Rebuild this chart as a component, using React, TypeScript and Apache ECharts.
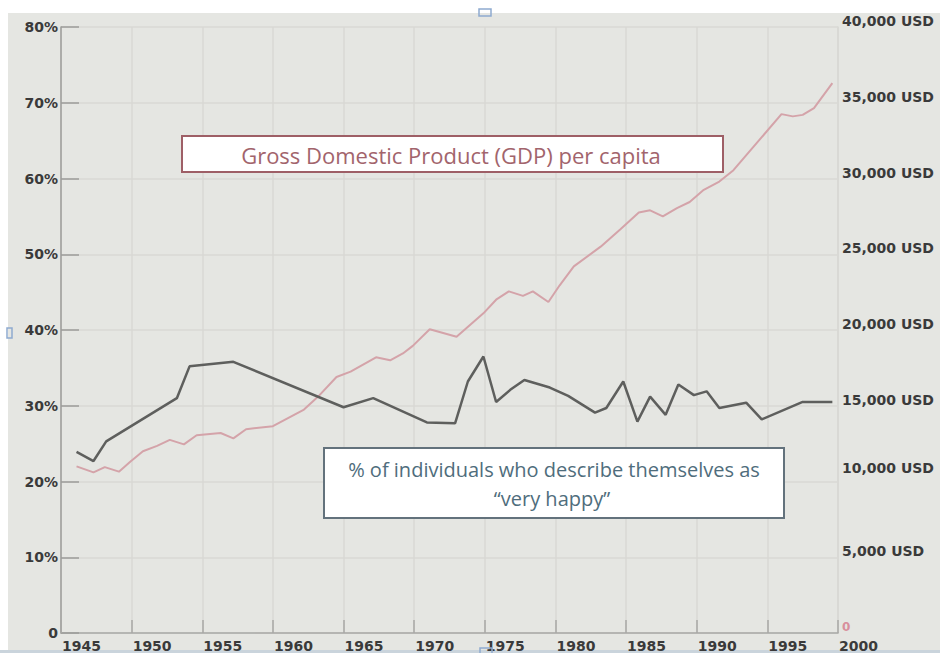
import React, { useEffect, useRef } from "react";
import * as echarts from "echarts";

const happyYears = [1946.1, 1947.3, 1948.2, 1953.2, 1954.1, 1957.2, 1965.0, 1967.1, 1970.9, 1972.9, 1973.8, 1974.9, 1975.8, 1976.8, 1977.8, 1979.6, 1980.9, 1982.8, 1983.6, 1984.8, 1985.8, 1986.7, 1987.8, 1988.7, 1989.8, 1990.7, 1991.6, 1993.5, 1994.6, 1997.5, 1999.6];
const happyValues = [23.9, 22.7, 25.3, 31.0, 35.2, 35.8, 29.8, 31.0, 27.8, 27.7, 33.2, 36.5, 30.5, 32.1, 33.4, 32.4, 31.3, 29.1, 29.7, 33.2, 27.9, 31.2, 28.8, 32.8, 31.4, 31.9, 29.7, 30.4, 28.2, 30.5, 30.5];

const gdpYears = [1946.1, 1947.3, 1948.1, 1949.1, 1949.9, 1950.8, 1951.8, 1952.7, 1953.7, 1954.6, 1956.3, 1957.2, 1958.1, 1960.0, 1961.0, 1962.2, 1963.3, 1964.5, 1965.5, 1967.3, 1968.3, 1969.2, 1969.9, 1971.1, 1973.0, 1974.9, 1975.8, 1976.7, 1977.7, 1978.4, 1979.5, 1980.3, 1981.3, 1983.2, 1984.6, 1985.9, 1986.7, 1987.6, 1988.6, 1989.5, 1990.5, 1991.6, 1992.6, 1996.0, 1996.8, 1997.5, 1998.3, 1999.6];
const gdpValues = [11000, 10600, 10950, 10650, 11300, 12000, 12350, 12750, 12450, 13050, 13200, 12850, 13450, 13650, 14150, 14750, 15700, 16900, 17250, 18200, 18000, 18450, 18950, 20050, 19550, 21100, 22000, 22550, 22250, 22550, 21850, 22950, 24200, 25500, 26650, 27750, 27900, 27500, 28050, 28450, 29250, 29800, 30550, 34250, 34100, 34200, 34650, 36300];

const xMin = 1945;
const xMax = 2000;
const xStep = 5;
const pctMax = 80;
const pctStep = 10;
const usdMax = 40000;
const usdStep = 5000;

const gdpLabel = "Gross Domestic Product (GDP) per capita";
const happyLabel1 = "% of individuals who describe themselves as";
const happyLabel2 = "\u201Cvery happy\u201D";

const LABEL_FONT = "DejaVu Sans";
const BOX_FONT = "Open Sans";

export default function App() {
  const ref = useRef<HTMLDivElement>(null);

  useEffect(() => {
    if (!ref.current) return;
    const chart = echarts.init(ref.current, null, { renderer: "svg" });
    const happyData = happyYears.map((y, i) => [y, happyValues[i]]);
    const gdpData = gdpYears.map((y, i) => [y, gdpValues[i]]);

    chart.setOption({
      animation: false,
      backgroundColor: "transparent",
      grid: { left: 61, right: 102, top: 27, bottom: 20 },
      xAxis: {
        type: "value",
        min: xMin,
        max: xMax,
        interval: xStep,
        axisLine: { show: true, lineStyle: { color: "#a8a9a6", width: 1.5 } },
        axisTick: { show: true, inside: true, length: 13, lineStyle: { color: "#a8a9a6", width: 1.5 } },
        splitLine: { show: true, lineStyle: { color: "#d8d9d5", width: 1.5 } },
        axisLabel: {
          align: "left",
          margin: 6,
          padding: [0, 0, 0, 1],
          color: "#3a3a3a",
          fontFamily: LABEL_FONT,
          fontWeight: "bold",
          fontSize: 14,
          formatter: (v: number) => String(v),
        },
      },
      yAxis: [
        {
          type: "value",
          min: 0,
          max: pctMax,
          interval: pctStep,
          axisLine: { show: true, lineStyle: { color: "#9c9d9a", width: 1.5 } },
          axisTick: { show: true, inside: true, length: 18, lineStyle: { color: "#9c9d9a", width: 1.5 } },
          splitLine: { show: true, lineStyle: { color: "#d8d9d5", width: 1.5 } },
          axisLabel: {
            margin: 3,
            color: "#3a3a3a",
            fontFamily: LABEL_FONT,
            fontWeight: "bold",
            fontSize: 14,
            formatter: (v: number) => (v === 0 ? "0" : v + "%"),
          },
        },
        {
          type: "value",
          position: "right",
          min: 0,
          max: usdMax,
          interval: usdStep,
          axisLine: { show: true, lineStyle: { color: "#d8d9d5", width: 1.5 } },
          axisTick: { show: false },
          splitLine: { show: false },
          axisLabel: {
            margin: 4,
            align: "left",
            formatter: (v: number) => {
              if (v === 0) return "{z|0}\n{s|}";
              const t = v.toLocaleString("en-US") + " USD";
              if (v === 10000) return "{n|" + t + "}\n{b|}";
              return "{n|" + t + "}\n{s|}";
            },
            rich: {
              n: { color: "#3a3a3a", fontFamily: LABEL_FONT, fontWeight: "bold", fontSize: 14, lineHeight: 16 },
              z: { color: "#d88f9c", fontFamily: LABEL_FONT, fontWeight: "bold", fontSize: 12, lineHeight: 16 },
              s: { lineHeight: 12, fontSize: 1 },
              b: { lineHeight: 28, fontSize: 1 },
            },
          },
        },
      ],
      series: [
        {
          name: "GDP per capita",
          type: "line",
          yAxisIndex: 1,
          data: gdpData,
          symbol: "none",
          lineStyle: { color: "#d4a3a9", width: 2 },
          z: 3,
        },
        {
          name: "Very happy",
          type: "line",
          yAxisIndex: 0,
          data: happyData,
          symbol: "none",
          lineStyle: { color: "#5e5f5d", width: 2.5 },
          z: 4,
        },
      ],
      graphic: [
        {
          type: "rect",
          z: 100,
          shape: { x: 182, y: 136, width: 541, height: 36 },
          style: { fill: "#ffffff", stroke: "#9e5f66", lineWidth: 2 },
        },
        {
          type: "text",
          z: 101,
          x: 451,
          y: 155,
          style: {
            text: gdpLabel,
            fill: "#a2646c",
            font: "22px '" + BOX_FONT + "'",
            align: "center",
            verticalAlign: "middle",
          },
        },
        {
          type: "rect",
          z: 100,
          shape: { x: 324, y: 448, width: 460, height: 70 },
          style: { fill: "#ffffff", stroke: "#63727c", lineWidth: 2 },
        },
        {
          type: "text",
          z: 101,
          x: 554,
          y: 469,
          style: {
            text: happyLabel1,
            fill: "#4f6d7c",
            font: "20px '" + BOX_FONT + "'",
            align: "center",
            verticalAlign: "middle",
          },
        },
        {
          type: "text",
          z: 101,
          x: 552,
          y: 498,
          style: {
            text: happyLabel2,
            fill: "#4f6d7c",
            font: "20px '" + BOX_FONT + "'",
            align: "center",
            verticalAlign: "middle",
          },
        },
        {
          type: "rect",
          z: 100,
          shape: { x: 479, y: 9, width: 12, height: 7 },
          style: { fill: "none", stroke: "#8eaad0", lineWidth: 1.5 },
        },
        {
          type: "rect",
          z: 100,
          shape: { x: 7, y: 328, width: 5, height: 10 },
          style: { fill: "none", stroke: "#8eaad0", lineWidth: 1.5 },
        },
        {
          type: "rect",
          z: 100,
          shape: { x: 480, y: 648, width: 12, height: 6 },
          style: { fill: "none", stroke: "#8eaad0", lineWidth: 1.5 },
        },
      ],
    });
    return () => chart.dispose();
  }, []);

  return (
    <div style={{ position: "absolute", left: 0, top: 0, width: 940, height: 653, background: "#ffffff", overflow: "hidden" }}>
      <div style={{ position: "absolute", left: 8, top: 13, width: 932, height: 637, background: "#e5e6e2" }} />
      <div style={{ position: "absolute", left: 0, top: 650, width: 940, height: 3, background: "#cad4dc" }} />
      <div ref={ref} style={{ position: "absolute", left: 0, top: 0, width: 940, height: 653 }} />
    </div>
  );
}
